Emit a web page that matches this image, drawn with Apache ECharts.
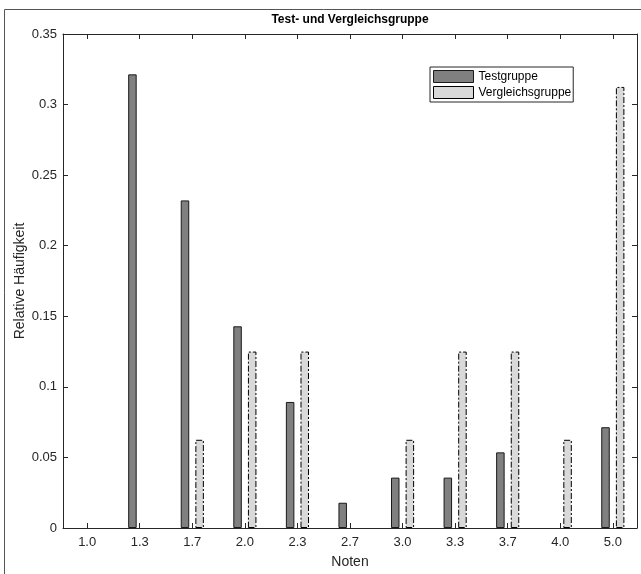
<!DOCTYPE html>
<html><head><meta charset="utf-8">
<script src="https://cdn.jsdelivr.net/npm/echarts@6/dist/echarts.min.js"></script>
<style>html,body{margin:0;padding:0;background:#fff}#c{width:641px;height:574px}</style>
</head><body><div id="c"></div>
<script>
const categories = ['1.0','1.3','1.7','2.0','2.3','2.7','3.0','3.3','3.7','4.0','5.0'];
const positions = [1,2,3,4,5,6,7,8,9,10,11];
const testgruppe = [0, 0.3214, 0.2321, 0.1429, 0.0893, 0.0179, 0.0357, 0.0357, 0.0536, 0, 0.0714];
const vergleichsgruppe = [0, 0, 0.0625, 0.125, 0.125, 0, 0.0625, 0.125, 0.125, 0.0625, 0.3125];
const seriesNames = ['Testgruppe', 'Vergleichsgruppe'];

const FONT = 'Liberation Sans, Arial, Helvetica, sans-serif';
const AX = '#262626';
const chart = echarts.init(document.getElementById('c'), null, {renderer: 'canvas'});

const xBase = {
  type: 'value', min: 0.54, max: 11.46,
  splitLine: {show: false},
  axisLine: {show: true, onZero: false, lineStyle: {color: AX, width: 1}},
  axisTick: {show: true, inside: true, length: 5, customValues: positions, lineStyle: {color: AX}}
};
const yBase = {
  type: 'value', min: 0, max: 0.35, interval: 0.05,
  splitLine: {show: false},
  axisLine: {show: true, onZero: false, lineStyle: {color: AX, width: 1}},
  axisTick: {show: true, inside: true, length: 5, lineStyle: {color: AX}}
};
// zero-height bars are not drawn (they would only sit on the axis line)
const toPoints = arr => positions.map((p, i) => [p, arr[i] === 0 ? null : arr[i]]);

chart.setOption({
  animation: false,
  backgroundColor: '#fff',
  textStyle: {fontFamily: FONT},
  title: {
    text: 'Test- und Vergleichsgruppe',
    left: 350, top: 14, textAlign: 'center', padding: 0,
    textStyle: {fontFamily: FONT, fontSize: 12, fontWeight: 'bold', color: '#000'}
  },
  graphic: [{
    type: 'rect', silent: true, z: -1,
    shape: {x: 4.5, y: 9.5, width: 700, height: 700},
    style: {fill: 'none', stroke: '#555', lineWidth: 1}
  }],
  legend: {
    data: seriesNames,
    orient: 'vertical', left: 430, top: 67,
    itemWidth: 40, itemHeight: 12, itemGap: 3,
    padding: [3, 2, 3, 3],
    borderColor: AX, borderWidth: 1, backgroundColor: '#fff',
    icon: 'rect',
    itemStyle: {borderWidth: 1},
    textStyle: {fontFamily: FONT, fontSize: 12, color: '#000'}
  },
  grid: {left: 63, right: 4, top: 34, bottom: 46, containLabel: false},
  xAxis: [
    Object.assign({}, xBase, {
      position: 'bottom',
      axisLabel: {customValues: positions, formatter: v => categories[Math.round(v) - 1], color: AX, fontSize: 13, margin: 8, fontFamily: FONT},
      name: 'Noten', nameLocation: 'middle', nameGap: 27, nameMoveOverlap: false,
      nameTextStyle: {fontFamily: FONT, fontSize: 14, color: AX}
    }),
    Object.assign({}, xBase, {position: 'top', axisLabel: {show: false}})
  ],
  yAxis: [
    Object.assign({}, yBase, {
      position: 'left',
      axisLabel: {color: AX, fontSize: 13, margin: 6, fontFamily: FONT},
      name: 'Relative Häufigkeit', nameLocation: 'middle', nameGap: 36, nameRotate: 90, nameMoveOverlap: false,
      nameTextStyle: {fontFamily: FONT, fontSize: 14, color: AX}
    }),
    Object.assign({}, yBase, {position: 'right', axisLabel: {show: false}})
  ],
  series: [
    {
      name: seriesNames[0], type: 'bar', xAxisIndex: 0, yAxisIndex: 0,
      barWidth: 8.5, barGap: '72%',
      data: toPoints(testgruppe),
      itemStyle: {color: '#808080', borderColor: '#1a1a1a', borderWidth: 1}
    },
    {
      name: seriesNames[1], type: 'bar', xAxisIndex: 0, yAxisIndex: 0,
      barWidth: 8.5, barGap: '72%',
      data: toPoints(vergleichsgruppe),
      itemStyle: {color: '#d9d9d9', borderColor: '#000', borderWidth: 1, borderType: [6, 2, 2, 2]}
    }
  ]
});
</script></body></html>
